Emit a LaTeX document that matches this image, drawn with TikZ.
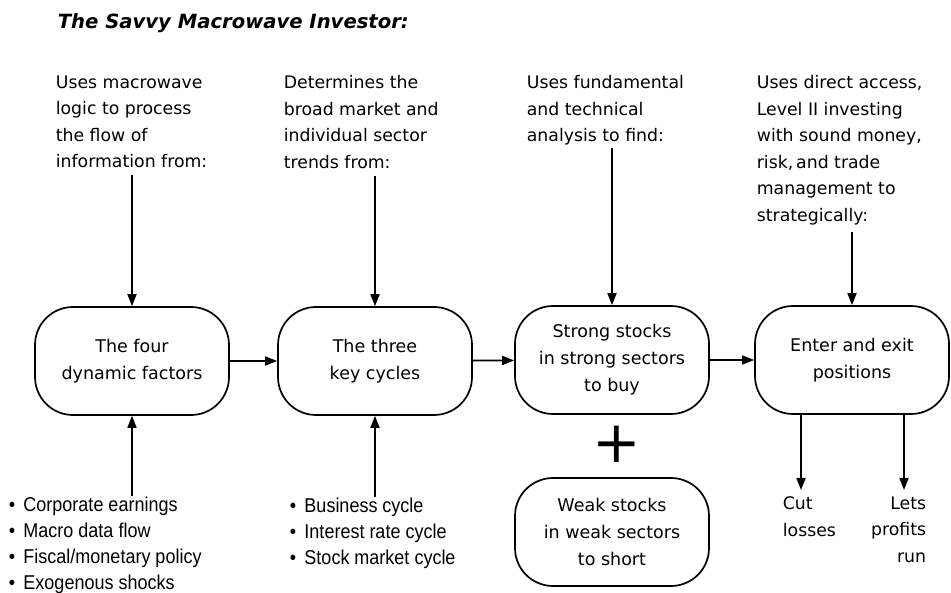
\documentclass[tikz,border=0pt]{standalone}
\usepackage{fontspec}
\setmainfont{DejaVu Sans}
\newfontfamily\listfont[FakeStretch=0.9]{Liberation Sans}
\usetikzlibrary{arrows.meta}

\begin{document}
\begin{tikzpicture}[x=1pt,y=-1pt,>={Triangle[length=12pt,width=9pt]},line width=1.7pt,
        every node/.style={inner sep=0pt},
        stage/.style={draw,rounded corners=38pt,minimum width=194pt,minimum height=108pt,align=center,font=\fontsize{17.5}{27}\selectfont},
        note/.style={align=left,anchor=north west,font=\fontsize{17.3}{26.5}\selectfont},
        facts/.style={align=left,anchor=north west,font=\listfont\fontsize{20}{26}\selectfont}]
        \useasboundingbox (0,0) rectangle (951,593);

        % Nodes
        \node[stage] (four) at (132,361) {The four\\dynamic factors};
        \node[stage] (three) at (375,361) {The three\\key cycles};
        \node[stage] (strong) at (612,360) {Strong stocks\\in strong sectors\\to buy};
        \node[stage] (enter) at (852,360) {Enter and exit\\positions};
        \node[stage] (weak) at (612,532) {Weak stocks\\in weak sectors\\to short};
        \node[font=\fontsize{58}{58}\selectfont] (plus) at (617,444) {+};

        % Notes above
        \node[note] (logic) at (55,75) {Uses macrowave\\logic to process\\the flow of\\information from:};
        \node[note] (trends) at (283,75) {Determines the\\broad market and\\individual sector\\trends from:};
        \node[note] (analysis) at (526,75) {Uses fundamental\\and technical\\analysis to find:};
        \node[note] (access) at (756,75) {Uses direct access,\\Level II investing\\with sound money,\\risk,\,and trade\\management to\\strategically:};

        % Lists below
        \node[facts] (factors) at (8,496) {•\ \,Corporate earnings\\•\ \,Macro data flow\\•\ \,Fiscal/monetary policy\\•\ \,Exogenous shocks};
        \node[facts] (cycles) at (289,497) {•\ \,Business cycle\\•\ \,Interest rate cycle\\•\ \,Stock market cycle};
        \node[note] (cut) at (782,496) {Cut\\losses};
        \node[note,anchor=north east,align=right] (lets) at (927,496) {Lets\\profits\\run};
        \coordinate (cutx) at (801,0);
        \coordinate (letsx) at (904,0);

        % Connections
        \draw[->,shorten <=6pt] (four |- logic.south) -- (four);
        \draw[->,shorten <=6pt] (three |- trends.south) -- (three);
        \draw[->,shorten <=2pt] (strong |- analysis.south) -- (strong);
        \draw[->,shorten <=6pt] (enter |- access.south) -- (enter);
        \draw[->] (four) -- (three);
        \draw[->] (three) -- (strong);
        \draw[->] (strong) -- (enter);
        \draw[->] (four |- factors.north) -- (four);
        \draw[->] (three |- cycles.north) -- (three);
        \draw[->,shorten >=6pt] (enter.south -| cutx) -- (cutx |- cut.north);
        \draw[->,shorten >=6pt] (enter.south -| letsx) -- (letsx |- lets.north);

        % Labels
        \node[anchor=west,font=\bfseries\itshape\fontsize{19.6}{22}\selectfont] (title) at (57,23) {The Savvy Macrowave Investor:};
    \end{tikzpicture}
\end{document}
